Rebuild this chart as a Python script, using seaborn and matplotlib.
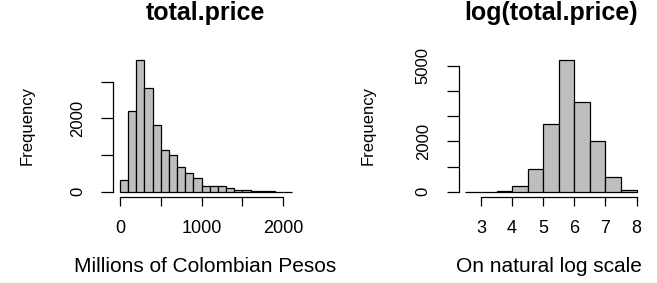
import matplotlib
matplotlib.use('Agg')
import matplotlib.pyplot as plt
import seaborn as sns
import numpy as np
import pandas as pd

# histogram counts
price_edges = list(range(0, 2200, 100))
price_counts = [309, 2190, 3590, 2836, 1809, 1145, 991, 682, 509, 364,
                164, 145, 164, 91, 55, 50, 25, 12, 8, 5, 4]

log_edges = [2.5, 3.0, 3.5, 4.0, 4.5, 5.0, 5.5, 6.0, 6.5, 7.0, 7.5, 8.0]
log_counts = [2, 5, 40, 245, 905, 2690, 5225, 3571, 2030, 577, 53]

sns.set_style('ticks')
plt.rcParams['font.family'] = ['Liberation Sans', 'DejaVu Sans']
plt.rcParams['text.color'] = 'black'
plt.rcParams['axes.labelcolor'] = 'black'

fig = plt.figure(figsize=(6.57, 2.83), dpi=100)
ax1 = fig.add_axes([0.172, 0.3039, 0.2822, 0.5028])
ax2 = fig.add_axes([0.698, 0.3039, 0.2814, 0.5028])

def r_hist(ax, edges, counts, title, xlabel, xticks, xticklabels, yticks, yticklabels, xlab_x, ylab_x):
    e = np.array(edges, dtype=float)
    df = pd.DataFrame({'mid': (e[:-1] + e[1:]) / 2, 'n': counts})
    sns.histplot(data=df, x='mid', weights='n', bins=list(e), ax=ax,
                 color='#BEBEBE', edgecolor='black', linewidth=0.9, alpha=1)
    # R style 4% padding
    xr = e[-1] - e[0]
    ax.set_xlim(e[0] - 0.04 * xr, e[-1] + 0.04 * xr)
    ym = max(counts)
    ax.set_ylim(-0.04 * ym, ym * 1.04)
    for s in ['top', 'right']:
        ax.spines[s].set_visible(False)
    ax.spines['left'].set_bounds(yticks[0], yticks[-1])
    ax.spines['bottom'].set_bounds(xticks[0], xticks[-1])
    for s in ['left', 'bottom']:
        ax.spines[s].set_linewidth(0.9)
        ax.spines[s].set_color('black')
    ax.set_xticks(xticks)
    ax.set_xticklabels(xticklabels, fontsize=13)
    ax.set_yticks(yticks)
    ax.set_yticklabels(yticklabels, fontsize=12, rotation=90, va='center')
    ax.tick_params(axis='x', bottom=True, direction='out', length=6.7, width=0.9, pad=10,
                   color='black', labelcolor='black')
    ax.tick_params(axis='y', left=True, direction='out', length=9, width=0.9, pad=11,
                   color='black', labelcolor='black')
    ax.set_ylabel('Frequency', fontsize=12)
    ax.yaxis.set_label_coords(ylab_x, 0.5)
    ax.set_xlabel(xlabel, fontsize=15)
    ax.xaxis.set_label_coords(xlab_x, -0.425)
    ax.set_title(title, fontweight='bold', fontsize=18, y=1.245, pad=0)

r_hist(ax1, price_edges, price_counts, 'total.price', 'Millions of Colombian Pesos',
       [0, 500, 1000, 1500, 2000], ['0', '', '1000', '', '2000'],
       [0, 1000, 2000, 3000], ['0', '', '2000', ''], 0.496, -0.425)
r_hist(ax2, log_edges, log_counts, 'log(total.price)', 'On natural log scale',
       [3, 4, 5, 6, 7, 8], ['3', '4', '5', '6', '7', '8'],
       [0, 1000, 2000, 3000, 4000, 5000], ['0', '', '2000', '', '', '5000'], 0.49, -0.45)

fig.savefig('out.png', dpi=100, facecolor='white')
